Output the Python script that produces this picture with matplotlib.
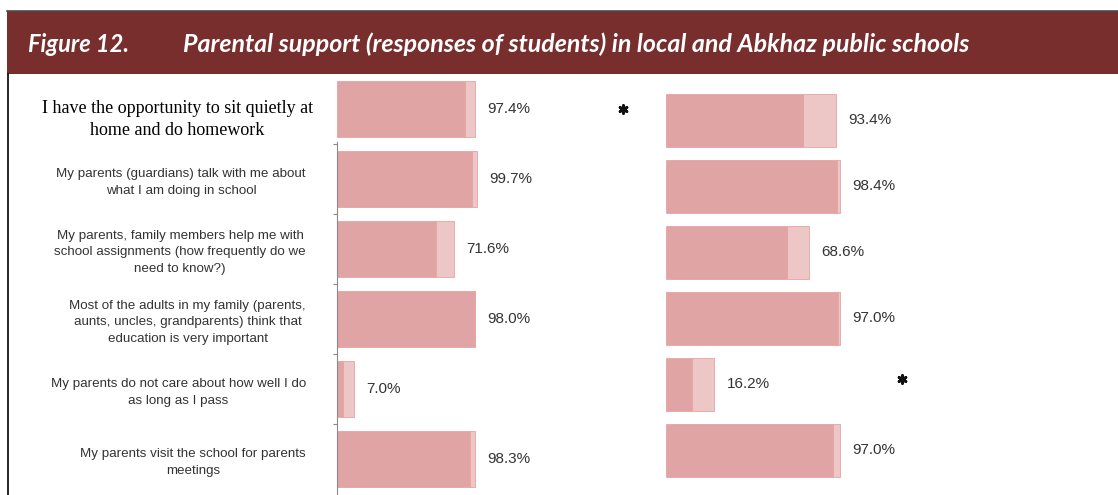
import matplotlib
matplotlib.use("Agg")
from matplotlib import pyplot as plt
from matplotlib.patches import Rectangle
from matplotlib.lines import Line2D
from matplotlib.transforms import blended_transform_factory

questions = [
    "I have the opportunity to sit quietly at\nhome and do homework",
    "My parents (guardians) talk with me about\nwhat I am doing in school",
    "My parents, family members help me with\nschool assignments (how frequently do we\nneed to know?)",
    "Most of the adults in my family (parents,\naunts, uncles, grandparents) think that\neducation is very important",
    "My parents do not care about how well I do\nas long as I pass",
    "My parents visit the school for parents\nmeetings",
]

# local public schools (left panel)
local_dark = [91.4, 96.4, 70.7, 98.3, 4.1, 95.0]
local_light = [7.2, 3.6, 12.9, 0.4, 8.0, 3.6]
local_labels = ["97.4%", "99.7%", "71.6%", "98.0%", "7.0%", "98.3%"]
local_sig = [True, False, False, False, False, False]

# Abkhaz public schools (right panel)
abkhaz_dark = [78.7, 98.5, 69.5, 99.0, 14.9, 96.0]
abkhaz_light = [19.2, 1.5, 13.0, 1.0, 13.0, 4.0]
abkhaz_labels = ["93.4%", "98.4%", "68.6%", "97.0%", "16.2%", "97.0%"]
abkhaz_sig = [False, False, False, False, True, False]

W, H = 1118, 495
dark_col = "#e0a4a4"
light_col = "#edc6c6"
edge_col = "#e8a2a2"
text_col = "#333333"

fig = plt.figure(figsize=(W / 100, H / 100), dpi=100)


def px_rect(x0, y_top, w, h):
    return [x0 / W, 1 - (y_top + h) / H, w / W, h / H]


# title bar
fig.add_artist(Rectangle((7 / W, 1 - 74 / H), 1 - 7 / W, 63 / H,
                         transform=fig.transFigure, facecolor="#772e2d",
                         edgecolor="none"))
fig.add_artist(Line2D([7 / W, 1], [1 - 11 / H, 1 - 11 / H],
                      transform=fig.transFigure, color="#4a4a4a", lw=1.2))
fig.add_artist(Line2D([8 / W, 8 / W], [0, 1 - 74 / H],
                      transform=fig.transFigure, color="black", lw=1.2))
fig.text(28 / W, 1 - 44 / H, "Figure 12.", color="white", fontsize=17,
         fontfamily="Lato", fontweight="bold", fontstyle="italic", va="center")
fig.text(183 / W, 1 - 44 / H,
         "Parental support (responses of students) in local and Abkhaz public schools",
         color="white", fontsize=18, fontfamily="Lato", fontweight="bold",
         fontstyle="italic", va="center")


def draw_panel(ax, dark, light, labels, sig, star_x, star_dy):
    rows = range(len(dark))
    ax.barh(rows, dark, height=0.81, color=dark_col, edgecolor=edge_col, linewidth=0.6)
    ax.barh(rows, light, left=dark, height=0.81, color=light_col,
            edgecolor=edge_col, linewidth=0.6)
    for i, lab in enumerate(labels):
        ax.annotate(lab, (dark[i] + light[i], i), xytext=(9, 0),
                    textcoords="offset points", va="center", ha="left",
                    fontsize=11, color=text_col, fontfamily="Liberation Sans")
        if sig[i]:
            ax.scatter([star_x], [i + star_dy], marker=(6, 2, 0), s=32,
                       linewidths=2.0, color="#111111")
    ax.set_xticks([])
    for s in ["top", "right", "bottom"]:
        ax.spines[s].set_visible(False)


# left panel: 100% = 140 px, rows every 70 px starting at y=109
ax1 = fig.add_axes(px_rect(337, 74, 323, 421))
ax1.set_xlim(0, 323 / 1.4)
ax1.set_ylim((495 - 109) / 70, (74 - 109) / 70)
draw_panel(ax1, local_dark, local_light, local_labels, local_sig, 204, 0.0)
ax1.spines["left"].set_color("#8a8a8a")
ax1.spines["left"].set_bounds(0.47, 6)
ax1.set_yticks([0.5, 1.5, 2.5, 3.5, 4.5])
ax1.set_yticklabels([])
ax1.tick_params(axis="y", length=3, color="#8a8a8a")

trans = blended_transform_factory(fig.transFigure, ax1.transData)
for i, q in enumerate(questions):
    if i == 0:
        ax1.text(313 / W, i + 0.15, q, transform=trans, ha="right", va="center",
                 multialignment="center", fontsize=13, color="black",
                 fontfamily="Liberation Serif", linespacing=1.35)
    else:
        ax1.text(306 / W, i + 0.05, q, transform=trans, ha="right", va="center",
                 multialignment="center", fontsize=9.6, color=text_col,
                 fontfamily="Liberation Sans", linespacing=1.55)

# right panel: 100% = 174 px, rows every 66 px starting at y=120.5
ax2 = fig.add_axes(px_rect(665.7, 74, 452.3, 421))
ax2.set_xlim(0, 452.3 / 1.74)
ax2.set_ylim((495 - 120.5) / 66, (74 - 120.5) / 66)
draw_panel(ax2, abkhaz_dark, abkhaz_light, abkhaz_labels, abkhaz_sig, 136, -0.08)
ax2.spines["left"].set_visible(False)
ax2.set_yticks([])

fig.savefig("out.png", dpi=100)
